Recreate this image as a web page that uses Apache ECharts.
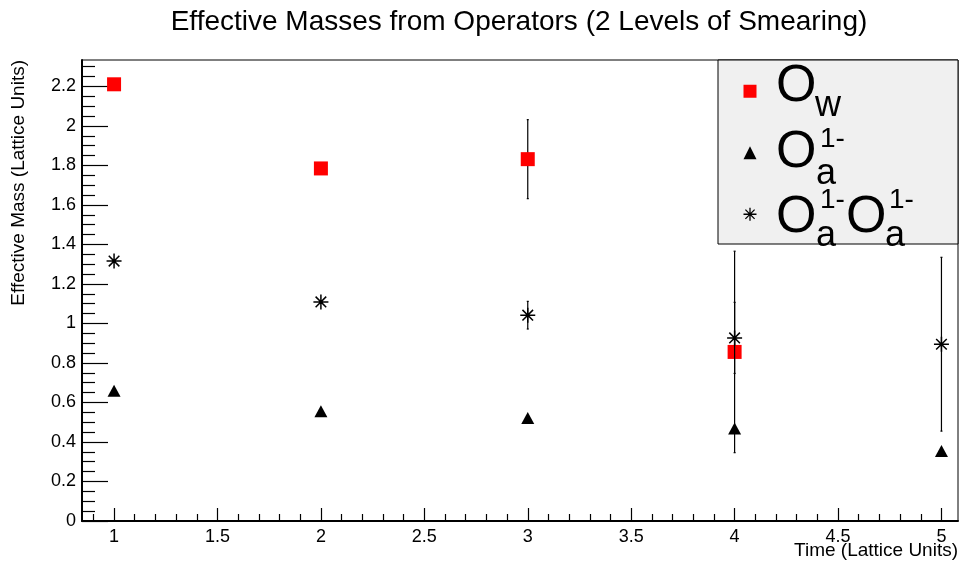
<!DOCTYPE html>
<html>
<head>
<meta charset="utf-8">
<script src="https://cdn.jsdelivr.net/npm/echarts@6/dist/echarts.min.js"></script>
<style>html,body{margin:0;padding:0;background:#fff}#c{width:959px;height:565px}</style>
</head>
<body>
<div id="c"></div>
<script>
// ---- data ----
const owX   = [1, 2, 3, 4];
const owY   = [2.211, 1.785, 1.832, 0.856];
const owErr = [0, 0, 0.20, 0.51];

const oaX   = [1, 2, 3, 4, 5];
const oaY   = [0.659, 0.556, 0.522, 0.468, 0.355];
const oaErr = [0, 0, 0, 0, 0];

const oaoaX   = [1, 2, 3, 4, 5];
const oaoaY   = [1.316, 1.109, 1.042, 0.927, 0.895];
const oaoaErr = [0, 0, 0.07, 0.18, 0.44];

const xTickLabels = [1, 1.5, 2, 2.5, 3, 3.5, 4, 4.5, 5];
const yTickLabels = [0, 0.2, 0.4, 0.6, 0.8, 1, 1.2, 1.4, 1.6, 1.8, 2, 2.2];

const titleText = 'Effective Masses from Operators (2 Levels of Smearing)';
const xName = 'Time (Lattice Units)';
const yName = 'Effective Mass (Lattice Units)';

// ---- minor tick positions ----
const xMinor = [];
for (let i = 9; i <= 50; i++) { if (i % 5 !== 0) xMinor.push(i / 10); }
const yMinor = [];
for (let i = 0; i <= 46; i++) { if (i % 4 !== 0) yMinor.push(i * 0.05); }

const FONT = 'Liberation Sans, Arial, Helvetica, sans-serif';
const X_MIN = 0.845, X_MAX = 5.08, Y_MIN = 0, Y_MAX = 2.334;

const pts = (xs, ys) => xs.map((x, i) => [x, ys[i]]);
const errPts = (xs, ys, es) => xs.map((x, i) => [x, ys[i], es[i]]);

function errRender(params, api) {
  const x = api.value(0), y = api.value(1), e = api.value(2);
  if (!e) return null;
  const hi = api.coord([x, y + e]);
  const lo = api.coord([x, y - e]);
  const st = { stroke: '#000', lineWidth: 1.2 };
  return {
    type: 'group',
    children: [
      { type: 'line', shape: { x1: hi[0], y1: hi[1], x2: lo[0], y2: lo[1] }, style: st },
      { type: 'line', shape: { x1: hi[0] - 1, y1: hi[1], x2: hi[0] + 1, y2: hi[1] }, style: st },
      { type: 'line', shape: { x1: lo[0] - 1, y1: lo[1], x2: lo[0] + 1, y2: lo[1] }, style: st }
    ]
  };
}

const starPath = 'path://M0,-10L0,10M-10,0L10,0M-7.07,-7.07L7.07,7.07M-7.07,7.07L7.07,-7.07';

const chart = echarts.init(document.getElementById('c'), null, { renderer: 'canvas' });

const legendBox = { x: 718, y: 60, w: 240, h: 184 };
const bigO = 52, subF = 36, supF = 28;
function txt(t, x, y, size) {
  return { type: 'text', x: x, y: y, z: 20,
    style: { text: t, font: size + 'px ' + FONT, fill: '#000', textAlign: 'left', textVerticalAlign: 'middle' } };
}

chart.setOption({
  animation: false,
  backgroundColor: '#fff',
  title: {
    text: titleText, left: 514, top: 3, textAlign: 'center',
    textStyle: { fontFamily: FONT, fontSize: 28, fontWeight: 'normal', color: '#000' }
  },
  grid: { left: 82, right: 1, top: 60, bottom: 44, show: true, borderColor: '#000', borderWidth: 1, backgroundColor: 'transparent', outerBoundsMode: 'none' },
  xAxis: [
    { type: 'value', min: X_MIN, max: X_MAX, position: 'bottom',
      axisLine: { show: true, onZero: false, lineStyle: { color: '#000', width: 2 } },
      axisTick: { show: true, inside: true, length: 13, customValues: xTickLabels, lineStyle: { color: '#000', width: 1.2 } },
      axisLabel: { show: true, customValues: xTickLabels, margin: 7, color: '#000', fontSize: 18, fontFamily: FONT },
      splitLine: { show: false } },
    { type: 'value', min: X_MIN, max: X_MAX, position: 'bottom',
      axisLine: { show: false },
      axisTick: { show: true, inside: true, length: 7, customValues: xMinor, lineStyle: { color: '#000', width: 1.2 } },
      axisLabel: { show: false }, splitLine: { show: false } }
  ],
  yAxis: [
    { type: 'value', min: Y_MIN, max: Y_MAX, position: 'left',
      axisLine: { show: true, onZero: false, lineStyle: { color: '#000', width: 2 } },
      axisTick: { show: true, inside: true, length: 26, customValues: yTickLabels, lineStyle: { color: '#000', width: 1.2 } },
      axisLabel: { show: true, customValues: yTickLabels, margin: 6, color: '#000', fontSize: 18, fontFamily: FONT },
      splitLine: { show: false } },
    { type: 'value', min: Y_MIN, max: Y_MAX, position: 'left',
      axisLine: { show: false },
      axisTick: { show: true, inside: true, length: 13, customValues: yMinor, lineStyle: { color: '#000', width: 1.2 } },
      axisLabel: { show: false }, splitLine: { show: false } }
  ],
  legend: {
    orient: 'vertical', left: 741, top: 60.5, padding: 0, itemGap: 0, itemWidth: 13, itemHeight: 13, z: 15,
    formatter: () => ' ',
    textStyle: { fontSize: 12, lineHeight: 61.5 },
    data: [
      { name: 'O_w', icon: 'rect', itemStyle: { color: '#ff0000' } },
      { name: 'O_a', icon: 'triangle', itemStyle: { color: '#000' } },
      { name: 'O_aO_a', icon: starPath, itemStyle: { color: 'none', borderColor: '#000', borderWidth: 1.3 } }
    ]
  },
  graphic: [
    { type: 'rect', z: 10, shape: { x: legendBox.x, y: legendBox.y, width: legendBox.w, height: legendBox.h },
      style: { fill: '#f0f0f0', stroke: '#000', lineWidth: 1 } },
    txt('O', 776, 87, bigO), txt('w', 815, 106, subF),
    txt('O', 776, 153, bigO), txt('a', 816, 174, subF), txt('1-', 820, 139, supF),
    txt('O', 776, 218, bigO), txt('a', 816, 236, subF), txt('1-', 820, 200, supF),
    txt('O', 846, 218, bigO), txt('a', 885, 236, subF), txt('1-', 889, 200, supF),
    { type: 'text', x: 958, y: 551, z: 20,
      style: { text: xName, font: '19px ' + FONT, fill: '#000', textAlign: 'right', textVerticalAlign: 'middle' } },
    { type: 'text', x: 19, y: 60, rotation: Math.PI / 2, z: 20,
      style: { text: yName, font: '19px ' + FONT, fill: '#000', textAlign: 'right', textVerticalAlign: 'middle' } }
  ],
  series: [
    { name: 'O_w_err', type: 'custom', xAxisIndex: 0, yAxisIndex: 0, z: 2, renderItem: errRender,
      encode: { x: 0, y: 1 }, data: errPts(owX, owY, owErr) },
    { name: 'O_w', type: 'scatter', xAxisIndex: 0, yAxisIndex: 0, z: 3, symbol: 'rect', symbolSize: 14,
      itemStyle: { color: '#ff0000', opacity: 1 }, data: pts(owX, owY) },
    { name: 'O_a_err', type: 'custom', xAxisIndex: 0, yAxisIndex: 0, z: 4, renderItem: errRender,
      encode: { x: 0, y: 1 }, data: errPts(oaX, oaY, oaErr) },
    { name: 'O_a', type: 'scatter', xAxisIndex: 0, yAxisIndex: 0, z: 4, symbol: 'triangle', symbolSize: [13, 12],
      itemStyle: { color: '#000', opacity: 1 }, data: pts(oaX, oaY) },
    { name: 'O_aO_a_err', type: 'custom', xAxisIndex: 0, yAxisIndex: 0, z: 5, renderItem: errRender,
      encode: { x: 0, y: 1 }, data: errPts(oaoaX, oaoaY, oaoaErr) },
    { name: 'O_aO_a', type: 'scatter', xAxisIndex: 0, yAxisIndex: 0, z: 6, symbol: starPath, symbolSize: 15,
      itemStyle: { color: 'none', borderColor: '#000', borderWidth: 1.5, opacity: 1 }, data: pts(oaoaX, oaoaY) }
  ]
});
</script>
</body>
</html>
